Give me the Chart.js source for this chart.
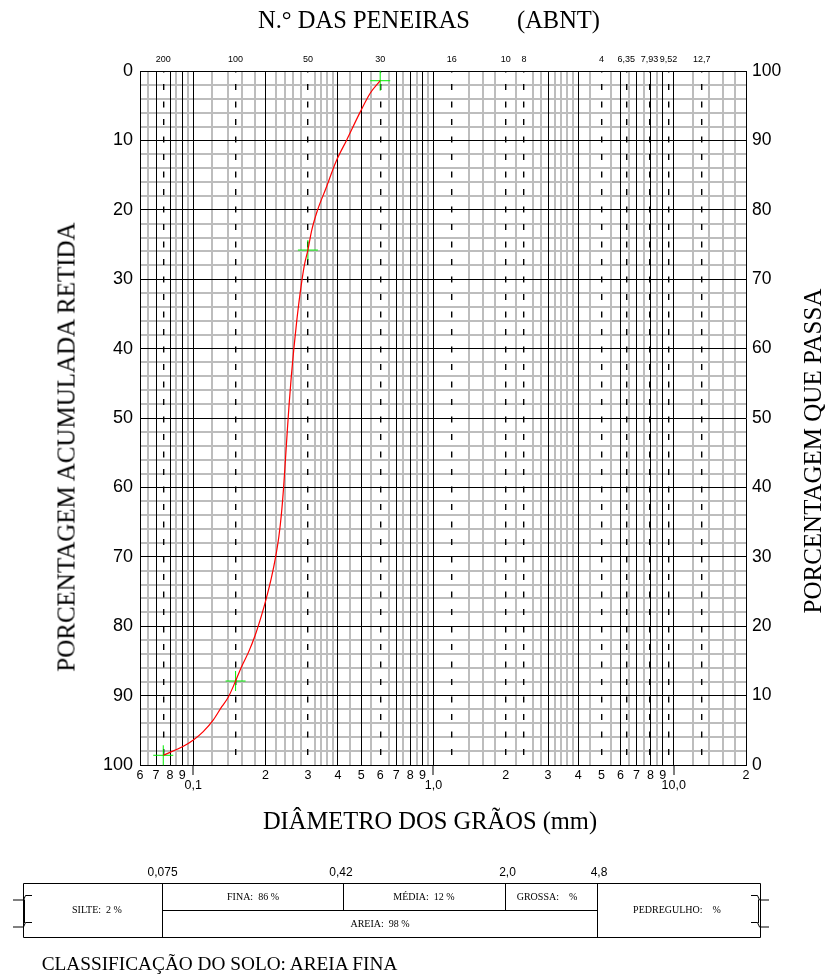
<!DOCTYPE html>
<html lang="pt-BR">
<head>
<meta charset="utf-8">
<title>Curva granulométrica</title>
<script src="https://cdn.jsdelivr.net/npm/chart.js@4/dist/chart.umd.min.js"></script>
<style>
  html, body { margin: 0; padding: 0; background: #fff; }
  body { width: 826px; height: 976px; position: relative; overflow: hidden; }
  #chart { position: absolute; left: 0; top: 0; }
  #frame { position: absolute; left: 0; top: 0; }
  .t { position: absolute; white-space: pre; line-height: 1; color: #000; }
  .c { transform: translate(-50%, -50%); }
  .l { transform: translate(0, -50%); }
  .r { transform: translate(0, -50%); text-align: right; }
  .v { transform: translate(-50%, -50%) rotate(-90deg); }
  .serif { font-family: "Liberation Serif", "Times New Roman", serif; }
  .sans { font-family: "Liberation Sans", Arial, sans-serif; }
</style>
</head>
<body>
<canvas id="chart" width="826" height="860"></canvas>

<div class="t serif l" style="left:258px; top:20px; font-size:24.5px;">N.° DAS PENEIRAS</div>
<div class="t serif r" style="right:226px; top:20px; font-size:24.5px;">(ABNT)</div>
<div class="t serif c" style="left:430px; top:821px; font-size:24.5px;">DIÂMETRO DOS GRÃOS (mm)</div>
<div class="t serif v" style="left:66px; top:447px; font-size:25px;">PORCENTAGEM ACUMULADA RETIDA</div>
<div class="t serif v" style="left:812px; top:451px; font-size:25px;">PORCENTAGEM QUE PASSA</div>

<svg id="frame" width="826" height="976" xmlns="http://www.w3.org/2000/svg">
  <g stroke="#000" stroke-width="1" fill="none">
    <path d="M23.5 883.5 H760.5 M23.5 937.5 H760.5 M23.5 883.5 V937.5 M760.5 883.5 V937.5"/>
    <path d="M162.5 883.5 V937.5 M597.5 883.5 V937.5 M343.5 883.5 V910.5 M505.5 883.5 V910.5 M162.5 910.5 H597.5"/>
    <!-- break marks at both ends of the fraction strip -->
    <path d="M32 895.5 H25.5 L23.5 900 H13 M24.5 899.5 V923 M32 922.5 H25.5 L23.5 927 H13"/>
    <path d="M751 895.5 H757.5 L759.5 900 H769 M758.5 899.5 V923 M751 922.5 H757.5 L759.5 927 H769"/>
  </g>
</svg>
<div id="fractions"></div>
<div class="t serif l" style="left:41.7px; top:963.7px; font-size:19.3px;">CLASSIFICAÇÃO DO SOLO: AREIA FINA</div>

<script>
// Sieve results: diameter (mm) and cumulative % retained
const sieveDiameters = [0.075, 0.15, 0.3, 0.6];
const sieveRetained  = [98.6, 87.9, 25.8, 1.4];

// Grading curve through the sieve results (diameter mm, % retained)
const curveDiameters = [0.075, 0.0909, 0.1001, 0.110, 0.1212, 0.1314, 0.140, 0.150, 0.159, 0.170,
                        0.181, 0.1925, 0.2006, 0.2115, 0.2202, 0.2273, 0.2325, 0.2377, 0.2419, 0.2461,
                        0.2506, 0.2559, 0.2622, 0.2696, 0.2785, 0.2899, 0.300, 0.3110, 0.3294, 0.3558,
                        0.3934, 0.4343, 0.4939, 0.5451, 0.600];
const curveRetained  = [98.6, 97.3, 96.4, 95.2, 93.5, 91.6, 90.2, 87.9, 85.8, 83.7,
                        81.3, 78.4, 76.2, 73.0, 70.0, 67.0, 64.0, 60.0, 56.0, 52.0,
                        48.0, 44.0, 40.0, 36.0, 32.0, 28.0, 25.8, 23.0, 20.0, 17.0,
                        13.0, 10.0, 6.0, 3.2, 1.4];

// ABNT sieve numbers along the top and the diameter (mm) where each rule sits
const sieveNames = ['200', '100', '50', '30', '16', '10', '8', '4', '6,35', '7,93', '9,52', '12,7'];
const sieveRules = [0.075, 0.15, 0.3, 0.6, 1.19, 2.0, 2.38, 5.0, 6.35, 7.93, 9.52, 13.1];

// Diameter labels along the bottom
const diameterTickValues = [0.06, 0.07, 0.08, 0.09, 0.1, 0.2, 0.3, 0.4, 0.5, 0.6, 0.7, 0.8, 0.9,
                            1, 2, 3, 4, 5, 6, 7, 8, 9, 10, 20];
const diameterTickLabels = ['6', '7', '8', '9', ['', '0,1'], '2', '3', '4', '5', '6', '7', '8', '9',
                            ['', '1,0'], '2', '3', '4', '5', '6', '7', '8', '9', ['', '10,0'], '2'];
const decadeTicks = [0.1, 1, 10];

// Vertical rules of the log paper: solid black and light grey subdivisions
const majorRules = [0.07, 0.08, 0.09, 0.1, 0.2, 0.4, 0.5, 0.7, 0.8, 0.9, 1, 3, 4, 6, 7, 8, 9, 10];
const minorRules = [0.065, 0.085, 0.095, 0.12, 0.14, 0.16, 0.18, 0.22, 0.24, 0.26, 0.28,
                    0.32, 0.34, 0.36, 0.38, 0.45, 0.55, 0.65, 0.75, 0.85, 0.95,
                    1.4, 1.6, 1.8, 2.2, 2.6, 2.8, 3.2, 3.4, 3.6, 3.8, 4.5, 5.5, 6.5, 7.5, 8.5,
                    12, 14, 16, 18];

// Percentage axes
const percentTicksLeft = [0, 10, 20, 30, 40, 50, 60, 70, 80, 90, 100];
const percentStepMinor = 2;

// Soil fractions strip
const boundaryLabels = ['0,075', '0,42', '2,0', '4,8'];
const fractionNames  = ['SILTE', 'FINA', 'MÉDIA', 'GROSSA', 'PEDREGULHO', 'AREIA'];
const fractionValues = ['2', '86', '12', '', '', '98'];

const BLACK = '#000000';
const GREY = '#bdbdbd';
const NONE = 'rgba(0,0,0,0)';
const SANS = '"Liberation Sans", Arial, sans-serif';

// Tick list for the bottom (minor) axis
const bottomValues = [...new Set([...diameterTickValues, ...minorRules])].sort((a, b) => a - b);
const bottomTicks = bottomValues.map(v => {
  const li = diameterTickValues.indexOf(v);
  return {
    value: v,
    label: li >= 0 ? diameterTickLabels[li] : '',
    minor: minorRules.includes(v),
    decade: decadeTicks.includes(v)
  };
});

const fixWidth = w => scale => { scale.width = w; };
const fixHeight = h => scale => { scale.height = h; };

const ctx = document.getElementById('chart').getContext('2d');
new Chart(ctx, {
  type: 'scatter',
  data: {
    datasets: [
      {
        label: 'Curva',
        data: curveDiameters.map((d, i) => ({ x: d, y: curveRetained[i] })),
        showLine: true,
        borderColor: '#ff0000',
        borderWidth: 1.2,
        pointRadius: 0,
        cubicInterpolationMode: 'monotone',
        xAxisID: 'x',
        yAxisID: 'y'
      },
      {
        label: 'Peneiras',
        data: sieveDiameters.map((d, i) => ({ x: d, y: sieveRetained[i] })),
        showLine: false,
        pointStyle: 'cross',
        pointRadius: 10,
        borderColor: '#00ee00',
        backgroundColor: '#00ee00',
        borderWidth: 1,
        clip: false,
        xAxisID: 'x',
        yAxisID: 'y'
      }
    ]
  },
  options: {
    responsive: false,
    animation: false,
    devicePixelRatio: 1,
    events: [],
    layout: { padding: 0 },
    plugins: { legend: { display: false }, tooltip: { enabled: false }, title: { display: false } },
    scales: {
      x: {
        type: 'logarithmic',
        position: 'bottom',
        min: 0.06,
        max: 20,
        afterBuildTicks: s => { s.ticks = bottomTicks.map(t => ({ value: t.value })); },
        afterFit: fixHeight(95),
        ticks: {
          autoSkip: false,
          maxRotation: 0,
          minRotation: 0,
          padding: -5,
          color: BLACK,
          font: { family: SANS, size: 12.5, lineHeight: 0.85 },
          callback: (v, i) => bottomTicks[i] ? bottomTicks[i].label : ''
        },
        grid: {
          z: -3,
          color: c => (bottomTicks[c.index] && bottomTicks[c.index].minor) ? GREY : NONE,
          lineWidth: 2,
          drawTicks: true,
          tickLength: 10,
          tickWidth: 1,
          tickColor: c => (bottomTicks[c.index] && bottomTicks[c.index].decade) ? BLACK : NONE
        },
        border: { display: true, color: BLACK, width: 1 }
      },
      xMajor: {
        type: 'logarithmic',
        position: 'bottom',
        min: 0.06,
        max: 20,
        afterBuildTicks: s => { s.ticks = majorRules.map(v => ({ value: v })); },
        afterFit: fixHeight(0),
        ticks: { display: false },
        grid: { z: -1, color: BLACK, lineWidth: 1, drawTicks: false },
        border: { display: false }
      },
      x2: {
        type: 'logarithmic',
        position: 'top',
        min: 0.06,
        max: 20,
        afterBuildTicks: s => { s.ticks = sieveRules.map(v => ({ value: v })); },
        afterFit: fixHeight(71),
        ticks: {
          autoSkip: false,
          maxRotation: 0,
          minRotation: 0,
          padding: 6,
          color: BLACK,
          font: { family: SANS, size: 9 },
          callback: (v, i) => sieveNames[i]
        },
        grid: { z: -1, color: BLACK, lineWidth: 1.4, drawTicks: false },
        border: { display: true, color: BLACK, width: 1, dash: [6, 11.5], dashOffset: 5.5 }
      },
      y: {
        type: 'linear',
        position: 'left',
        reverse: true,
        min: 0,
        max: 100,
        afterFit: fixWidth(140),
        ticks: {
          stepSize: percentStepMinor,
          autoSkip: false,
          padding: 7,
          color: BLACK,
          font: { family: SANS, size: 18 },
          callback: v => percentTicksLeft.includes(v) ? String(v) : ''
        },
        grid: {
          z: -3,
          color: c => (c.tick && c.tick.value % 10 !== 0) ? GREY : NONE,
          lineWidth: 2,
          drawTicks: false
        },
        border: { display: true, color: BLACK, width: 1 }
      },
      yMajor: {
        type: 'linear',
        position: 'left',
        reverse: true,
        min: 0,
        max: 100,
        afterFit: fixWidth(0),
        ticks: { stepSize: 10, display: false },
        grid: { z: -1, color: BLACK, lineWidth: 1, drawTicks: false },
        border: { display: false }
      },
      y2: {
        type: 'linear',
        position: 'right',
        min: 0,
        max: 100,
        afterFit: fixWidth(80),
        ticks: {
          stepSize: 10,
          autoSkip: false,
          padding: 6,
          color: BLACK,
          font: { family: SANS, size: 17.5 }
        },
        grid: { drawOnChartArea: false, drawTicks: false },
        border: { display: true, color: BLACK, width: 1 }
      }
    }
  }
});

// Fraction strip labels
const strip = document.getElementById('fractions');
const place = (text, x, y, cls, size) => {
  const d = document.createElement('div');
  d.className = 't ' + cls + ' c';
  d.style.left = x + 'px';
  d.style.top = y + 'px';
  d.style.fontSize = size + 'px';
  d.textContent = text;
  strip.appendChild(d);
};
const boundaryX = [162.6, 341, 507.5, 599];
boundaryLabels.forEach((b, i) => place(b, boundaryX[i], 872, 'sans', 12));
const cellPos = [[97, 910.3], [253, 897.3], [424, 897.3], [547, 896.5], [677, 910.3], [380, 924]];
fractionNames.forEach((n, i) => {
  const txt = n + ':  ' + (fractionValues[i] ? fractionValues[i] + ' ' : '  ') + '%';
  place(txt, cellPos[i][0], cellPos[i][1], 'serif', 10);
});
</script>
</body>
</html>
